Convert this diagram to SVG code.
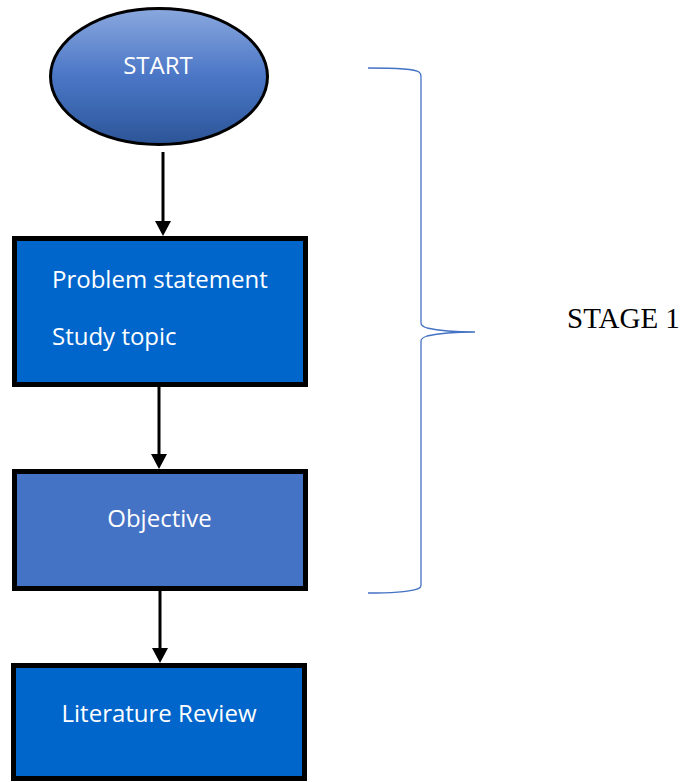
<svg xmlns="http://www.w3.org/2000/svg" width="692" height="782" viewBox="0 0 692 782">
  <style>
    .box { stroke: #000; stroke-width: 5; }
    .lbl { font-family: "Open Sans", "Noto Sans", sans-serif; font-size: 24px; fill: #fff; }
    .conn { stroke: #000; stroke-width: 3; fill: none; }
    .head { fill: #000; }
    .brace { stroke: #4472c4; stroke-width: 1.3; fill: none; }
    .stage { font-family: "Liberation Serif", "Times New Roman", serif; font-size: 29px; fill: #000; }
  </style>
  <defs>
    <linearGradient id="startGrad" x1="0" y1="0" x2="0" y2="1">
      <stop offset="0" stop-color="#8aa8de"/>
      <stop offset="0.5" stop-color="#4a76c6"/>
      <stop offset="1" stop-color="#2c5597"/>
    </linearGradient>
  </defs>
  <rect width="692" height="782" fill="#fff"/>

  <g id="start">
    <ellipse cx="159" cy="76.5" rx="108.5" ry="68" fill="url(#startGrad)" stroke="#000" stroke-width="3"/>
    <text class="lbl" x="158" y="74" text-anchor="middle">START</text>
  </g>

  <g id="problem">
    <rect class="box" x="14.5" y="238.5" width="291" height="146" fill="#0066cc"/>
    <text class="lbl" x="52" y="288">Problem statement</text>
    <text class="lbl" x="52" y="345">Study topic</text>
  </g>

  <g id="objective">
    <rect class="box" x="14.5" y="471.5" width="291" height="117" fill="#4472c4"/>
    <text class="lbl" x="159.5" y="527" text-anchor="middle">Objective</text>
  </g>

  <g id="literature">
    <rect class="box" x="13.5" y="665.5" width="291" height="113" fill="#0066cc"/>
    <text class="lbl" x="159" y="722" text-anchor="middle">Literature Review</text>
  </g>

  <g id="connectors">
    <line class="conn" x1="163" y1="152" x2="163" y2="222"/>
    <polygon class="head" points="155,221 171,221 163,236"/>
    <line class="conn" x1="159" y1="387" x2="159" y2="455"/>
    <polygon class="head" points="151,454 167,454 159,469"/>
    <line class="conn" x1="160" y1="591" x2="160" y2="649"/>
    <polygon class="head" points="152,648 168,648 160,663"/>
  </g>

  <g id="stage1">
    <path class="brace" d="M368,68 C395,68 415,69 419,72 Q421,73.5 421,77 L421,323 Q421,326 427,328 C440,331 455,332 475,332 C455,332 440,333 427,336 Q421,338 421,341 L421,585 Q421,588 417,589 C410,591 390,593 368,593"/>
    <text class="stage" x="567" y="328">STAGE 1</text>
  </g>
</svg>
